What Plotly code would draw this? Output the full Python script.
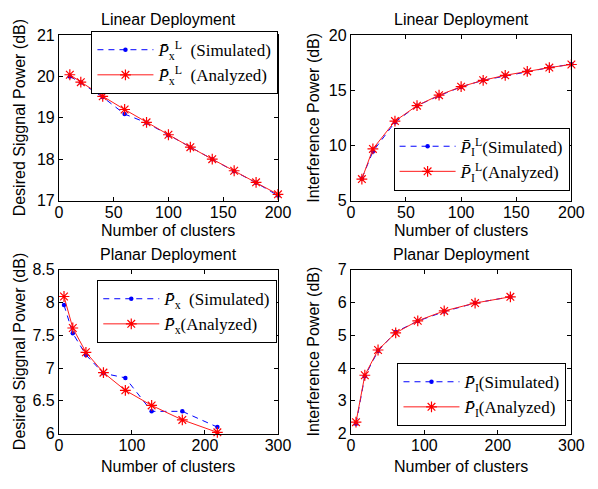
import plotly.graph_objects as go

# ---- data ----
n_lin = [10, 20, 40, 60, 80, 100, 120, 140, 160, 180, 200]
sig_lin_sim = [20.0, 19.85, 19.5, 19.09, 18.88, 18.58, 18.28, 18.0, 17.71, 17.43, 17.12]
sig_lin_ana = [20.04, 19.86, 19.52, 19.2, 18.89, 18.59, 18.29, 18.0, 17.72, 17.44, 17.15]
int_lin_sim = [7.0, 9.45, 12.1, 13.6, 14.5, 15.3, 15.9, 16.3, 16.7, 17.05, 17.35]
int_lin_ana = [6.95, 9.68, 12.2, 13.6, 14.55, 15.32, 15.9, 16.35, 16.7, 17.05, 17.33]

n_pla = [7, 19, 37, 61, 91, 127, 169, 217]
sig_pla_sim = [7.96, 7.53, 7.2, 6.92, 6.85, 6.34, 6.34, 6.1]
sig_pla_ana = [8.09, 7.61, 7.24, 6.93, 6.66, 6.43, 6.21, 6.02]
int_pla_sim = [2.3, 3.75, 4.52, 5.1, 5.43, 5.72, 5.98, 6.17]
int_pla_ana = [2.35, 3.78, 4.55, 5.07, 5.44, 5.74, 5.98, 6.17]

W, H = 598, 489
SANS = "Liberation Sans, Arial, sans-serif"
SERIF = "Liberation Serif, Times New Roman, serif"
PB = "<i>P\u0304</i>"

panels = [
    dict(x=n_lin, sim=sig_lin_sim, ana=sig_lin_ana, xr=[0, 200], xt=[0, 50, 100, 150, 200],
         yr=[17, 21], yt=[17, 18, 19, 20, 21], ytitle="Desired Siggnal Power (dB)",
         title="Linear Deployment",
         ls=PB + "<sub>x</sub><sup>L</sup>  (Simulated)", la=PB + "<sub>x</sub><sup>L</sup>  (Analyzed)",
         box=(56.5, 282, 28, 199.5), leg=(90, 24), ytx=16, xty=230),
    dict(x=n_lin, sim=int_lin_sim, ana=int_lin_ana, xr=[0, 200], xt=[0, 50, 100, 150, 200],
         yr=[5, 20], yt=[5, 10, 15, 20], ytitle="Interference Power (dB)",
         title="Linear Deployment",
         ls=PB + "<sub>I</sub><sup>L</sup>(Simulated)", la=PB + "<sub>I</sub><sup>L</sup>(Analyzed)",
         box=(357, 584, 28, 199.5), leg=(401, 124), ytx=319, xty=230),
    dict(x=n_pla, sim=sig_pla_sim, ana=sig_pla_ana, xr=[0, 300], xt=[0, 100, 200, 300],
         yr=[6, 8.5], yt=[6, 6.5, 7, 7.5, 8, 8.5], ytitle="Desired Siggnal Power (dB)",
         title="Planar Deployment",
         ls=PB + "<sub>x</sub>  (Simulated)", la=PB + "<sub>x</sub>(Analyzed)",
         box=(56.5, 282, 271, 441), leg=(96, 282), ytx=16, xty=475),
    dict(x=n_pla, sim=int_pla_sim, ana=int_pla_ana, xr=[0, 300], xt=[0, 100, 200, 300],
         yr=[2, 7], yt=[2, 3, 4, 5, 6, 7], ytitle="Interference Power (dB)",
         title="Planar Deployment",
         ls=PB + "<sub>I</sub>(Simulated)", la=PB + "<sub>I</sub>(Analyzed)",
         box=(357, 584, 271, 441), leg=(405, 368), ytx=319, xty=475),
]

fig = go.Figure()
layout = dict(
    width=W, height=H, margin=dict(l=0, r=0, t=0, b=0),
    paper_bgcolor="white", plot_bgcolor="white",
    font=dict(family=SANS, size=16, color="black"),
    annotations=[],
)


def paper_note(text, px, py, angle=0):
    return dict(text=text, x=px / W, y=1 - py / H, xref="paper", yref="paper",
                showarrow=False, xanchor="center", yanchor="middle", textangle=angle,
                font=dict(family=SANS, size=16, color="black"))


for i, p in enumerate(panels, start=1):
    sfx = "" if i == 1 else str(i)
    leg = "legend" if i == 1 else f"legend{i}"
    x0, x1, y0, y1 = p["box"]
    fig.add_trace(go.Scatter(
        x=p["x"], y=p["sim"], mode="lines+markers", name=p["ls"],
        line=dict(color="blue", width=1, dash="6px,5px"),
        marker=dict(symbol="circle", size=4.5, color="blue"),
        xaxis="x" + sfx, yaxis="y" + sfx, legend=leg, cliponaxis=False))
    fig.add_trace(go.Scatter(
        x=p["x"], y=p["ana"], mode="lines+markers", name=p["la"],
        line=dict(color="#ff1a1a", width=1),
        marker=dict(symbol="asterisk-open", size=9, color="red",
                    line=dict(color="red", width=1.2)),
        xaxis="x" + sfx, yaxis="y" + sfx, legend=leg, cliponaxis=False))

    axcommon = dict(showline=True, linecolor="black", linewidth=1, mirror="ticks",
                    ticks="inside", ticklen=4, tickcolor="black", showgrid=False,
                    zeroline=False, tickfont=dict(family=SANS, size=16))
    layout["xaxis" + sfx] = dict(
        axcommon, domain=[x0 / W, x1 / W], range=p["xr"], tickvals=p["xt"],
        anchor="y" + sfx, ticklabelstandoff=-3)
    layout["yaxis" + sfx] = dict(
        axcommon, domain=[1 - y1 / H, 1 - y0 / H], range=p["yr"], tickvals=p["yt"],
        anchor="x" + sfx)
    layout[leg] = dict(
        x=p["leg"][0] / W, y=1 - p["leg"][1] / H, xanchor="left", yanchor="top",
        xref="paper", yref="paper",
        bgcolor="white", bordercolor="black", borderwidth=1,
        font=dict(family=SERIF, size=17, color="black"), itemwidth=56)
    layout["annotations"] += [
        paper_note(p["title"], (x0 + x1) / 2, y0 - 16),
        paper_note("Number of clusters", (x0 + x1) / 2, p["xty"]),
        paper_note(p["ytitle"], p["ytx"], (y0 + y1) / 2, angle=-90),
    ]

fig.update_layout(**layout)
fig.write_html("out.html")
